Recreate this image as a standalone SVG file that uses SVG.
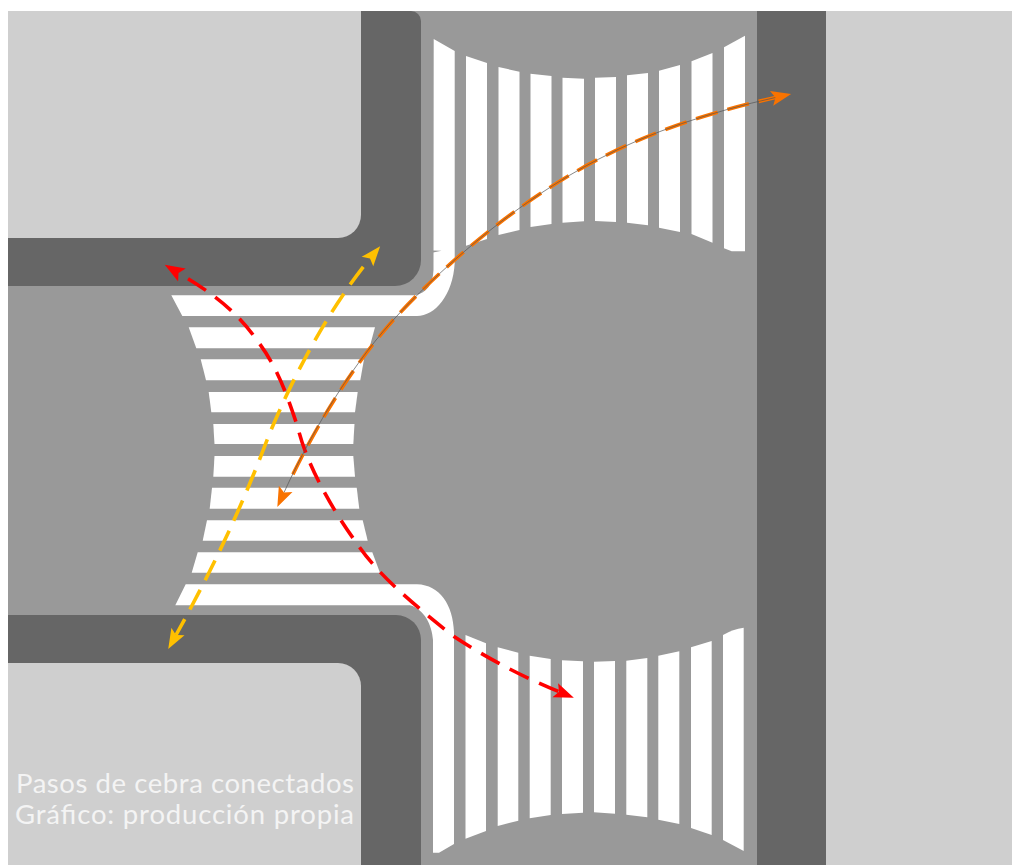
<svg xmlns="http://www.w3.org/2000/svg" width="1012" height="865" viewBox="0 0 1012 865">
<style>
.light{fill:#cfcfcf}.dark{fill:#666666}.road{fill:#999999}.stripe{fill:#ffffff}
.route{fill:none;stroke-width:3.6;stroke-linecap:butt}
.hair{fill:none;stroke:#555555;stroke-width:.7}
text{font-family:"Lato","Noto Sans",sans-serif;font-weight:400;font-size:27.5px;fill:#f4f4f4}
</style>
<defs>
<marker id="hr" markerUnits="userSpaceOnUse" markerWidth="22" markerHeight="16" refX="4" refY="8" orient="auto-start-reverse"><path d="M0,.5 L20,8 L0,15.5 L4,8 Z" fill="#ff0000"/></marker>
<marker id="hy" markerUnits="userSpaceOnUse" markerWidth="22" markerHeight="16" refX="4" refY="8" orient="auto-start-reverse"><path d="M0,.5 L20,8 L0,15.5 L4,8 Z" fill="#ffc000"/></marker>
<marker id="ho" markerUnits="userSpaceOnUse" markerWidth="22" markerHeight="16" refX="4" refY="8" orient="auto-start-reverse"><path d="M0,.5 L20,8 L0,15.5 L4,8 Z" fill="#f97300"/></marker>
</defs>
<rect width="1012" height="865" fill="#ffffff"/>
<g id="pavement">
<rect class="road" x="8" y="11" width="760" height="854"/>
<path class="dark" d="M8,11 H411 A10,10 0 0 1 421,21 V260 A26,26 0 0 1 395,286 H8 Z"/>
<path class="dark" d="M8,615 H396 A25,25 0 0 1 421,640 V865 H8 Z"/>
<path class="light" d="M8,11 H361 V215 A23,23 0 0 1 338,238 H8 Z"/>
<path class="light" d="M8,663 H338 A23,23 0 0 1 361,686 V865 H8 Z"/>
<rect class="dark" x="757" y="11" width="69" height="854"/>
<rect class="light" x="826" y="11" width="186" height="854"/>
</g>
<g id="crossing-west">
<path class="stripe" d="M433.7,39 L454.7,51 V263 C453,295 435,316 417,316 H182.3 L171.3,295.3 H415 C426,293 433,285 433.5,270 Z"/>
<path class="road" d="M433,250.5 L441.5,250.7 L433,252.5 Z"/>
<path class="stripe" d="M188.7,327.3 H375 L369.3,348.3 H196.3 Z"/>
<path class="stripe" d="M200.7,359.3 H364 L360.3,380.3 H206 Z"/>
<path class="stripe" d="M208.7,392 H357.7 L355,412.3 H211.3 Z"/>
<path class="stripe" d="M213.3,424 H354.5 L353.3,444 H214.5 Z"/>
<path class="stripe" d="M214.5,456 H353.3 L355,476.7 H213.3 Z"/>
<path class="stripe" d="M212,487.7 H356.7 L359.3,508.7 H209.7 Z"/>
<path class="stripe" d="M207,520.3 H362.7 L367.7,540.7 H202.7 Z"/>
<path class="stripe" d="M197.7,552.3 H372.3 L380,572.7 H191.7 Z"/>
<path class="stripe" d="M175.3,605.3 L185.7,584.3 H417 C440,585 453,605 454,632 V844 L439,852.7 H433 V640 C432,625 424,609 410,605.3 Z"/>
</g>
<g id="crossing-north">
<path class="stripe" d="M466,56 L487,63 V239 L466,245.7 Z"/>
<path class="stripe" d="M498.5,67 L519.5,71.7 V230 L498.5,235 Z"/>
<path class="stripe" d="M530.5,73.7 L551.5,76 V224 L530.5,227 Z"/>
<path class="stripe" d="M562.5,77.7 L584,78.7 V221.3 L562.5,222.7 Z"/>
<path class="stripe" d="M595,77.7 L616,77 V222 L595,221 Z"/>
<path class="stripe" d="M627,75.3 L648,73 V225.3 L627,222.7 Z"/>
<path class="stripe" d="M659,70.7 L680,65 V232 L659,227.7 Z"/>
<path class="stripe" d="M691.5,61.3 L712.5,53 V242.7 L691.5,234 Z"/>
<path class="stripe" d="M724,47.3 L745,35.7 V251.3 H731.7 L724,248.3 Z"/>
</g>
<g id="crossing-south">
<path class="stripe" d="M465.5,635 L486,643.3 V831 L465.5,838.7 Z"/>
<path class="stripe" d="M497.7,647.3 L518.3,652.7 V820.7 L497.7,826 Z"/>
<path class="stripe" d="M529.7,655.7 L550.7,659 V815 L529.7,818.3 Z"/>
<path class="stripe" d="M562,660.3 L583,661.3 V812.7 L562,814 Z"/>
<path class="stripe" d="M594,661.7 L615,661 V813.7 L594,812.3 Z"/>
<path class="stripe" d="M626.3,660.7 L647.3,658 V817.3 L626.3,814.7 Z"/>
<path class="stripe" d="M658.3,655.7 L679.3,651.3 V824 L658.3,819.7 Z"/>
<path class="stripe" d="M691,647.3 L711.7,641 V835 L691,828 Z"/>
<path class="stripe" d="M723,635 Q733,629 743.7,627.7 V851 L723,840 Z"/>
</g>
<g id="connectors">
<path class="route" stroke="#ff0000" stroke-dasharray="21 11.5" stroke-dashoffset="21" marker-start="url(#hr)" marker-end="url(#hr)" d="M178.5,273 C202,287 233,306 256,339 C277,366 286,392 298,428 C306,462 330,507 358,545 C378,574 408,600 452.7,635.7 C480,654 520,676 559,691.7"/>
<path class="route" stroke="#ffc000" stroke-dasharray="22 11" stroke-dashoffset="22" marker-start="url(#hy)" marker-end="url(#hy)" d="M370,258.5 C340,295 302,355 269,435 C252,480 226,545 176,635"/>
<path class="route" stroke="#f97300" stroke-dasharray="22.5 10" d="M292.9,474.4 C323,413.2 359.5,356.3 400,312.7 C450,260 520,200 598.3,159.3 C650,132 710,112 775.5,97.5"/>
<path class="hair" marker-start="url(#ho)" marker-end="url(#ho)" d="M284,492.5 C315,425 355,360 400,312.7 C450,260 520,200 598.3,159.3 C650,132 710,112 775.5,97.5"/>
</g>
<g id="caption">
<text x="16" y="793" textLength="338">Pasos de cebra conectados</text>
<text x="15" y="824" textLength="339">Gráfico: producción propia</text>
</g>
</svg>
